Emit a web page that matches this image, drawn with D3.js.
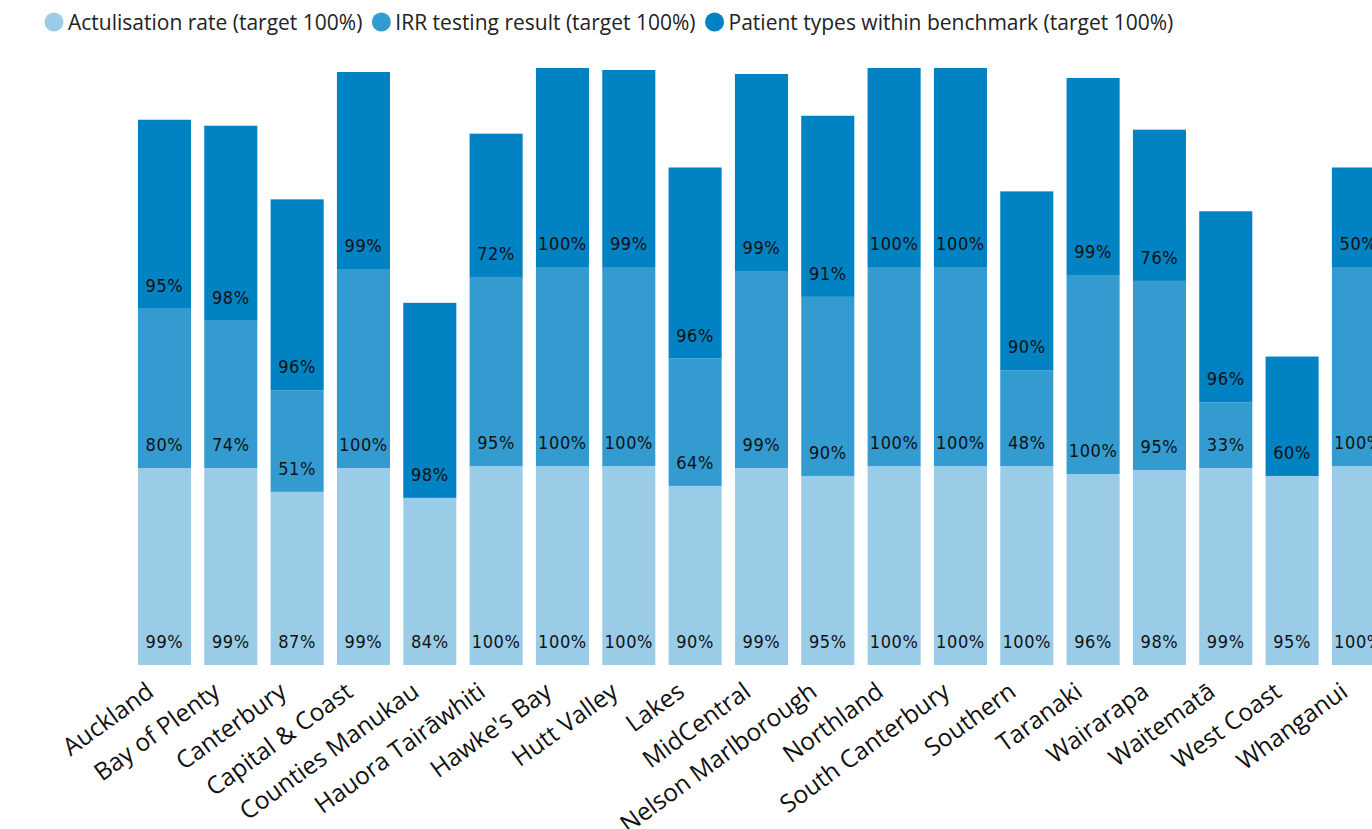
<!DOCTYPE html>
<html>
<head>
<meta charset="utf-8">
<script src="https://cdn.jsdelivr.net/npm/d3@7"></script>
<style>
  html, body { margin: 0; padding: 0; background: #fff; overflow: hidden; }
  svg { display: block; }
</style>
</head>
<body>
<svg id="chart" width="1372" height="829"></svg>
<script>
const categories = ["Auckland", "Bay of Plenty", "Canterbury", "Capital & Coast", "Counties Manukau",
  "Hauora Tairāwhiti", "Hawke's Bay", "Hutt Valley", "Lakes", "MidCentral", "Nelson Marlborough",
  "Northland", "South Canterbury", "Southern", "Taranaki", "Wairarapa", "Waitematā", "West Coast", "Whanganui"];
const actualisation = [99, 99, 87, 99, 84, 100, 100, 100, 90, 99, 95, 100, 100, 100, 96, 98, 99, 95, 100];
const irr = [80, 74, 51, 100, null, 95, 100, 100, 64, 99, 90, 100, 100, 48, 100, 95, 33, null, 100];
const patientTypes = [95, 98, 96, 99, 98, 72, 100, 99, 96, 99, 91, 100, 100, 90, 99, 76, 96, 60, 50];
const seriesNames = ["Actulisation rate (target 100%)", "IRR testing result (target 100%)", "Patient types within benchmark (target 100%)"];
const seriesColors = ["#9acce7", "#349bd0", "#0082c3"];

const svg = d3.select("#chart");
const seriesVals = [actualisation, irr, patientTypes];

const rows = categories.map((c, i) => ({
  cat: c, s0: actualisation[i] || 0, s1: irr[i] || 0, s2: patientTypes[i] || 0
}));
const stack = d3.stack().keys(["s0", "s1", "s2"]);
const stacked = stack(rows);

const x = d3.scaleBand().domain(categories).range([131.3, 1391.6]).paddingInner(0.2).paddingOuter(0.1);
const y = d3.scaleLinear().domain([0, 300]).range([665, 68]);

const layers = svg.append("g").selectAll("g").data(stacked).join("g")
  .attr("fill", (d, i) => seriesColors[i]);

layers.selectAll("rect").data((d, si) => d.map((v, i) => ({ v, i, si })))
  .join("rect")
  .filter(d => seriesVals[d.si][d.i] != null)
  .attr("x", d => x(categories[d.i]))
  .attr("width", x.bandwidth())
  .attr("y", d => y(d.v[1]))
  .attr("height", d => y(d.v[0]) - y(d.v[1]));

// value labels (inside base)
const labelG = svg.append("g")
  .attr("font-family", "'DejaVu Sans Condensed', 'DejaVu Sans', sans-serif")
  .attr("font-stretch", "condensed")
  .attr("font-size", 18)
  .attr("letter-spacing", 0.6)
  .attr("fill", "#111")
  .attr("text-anchor", "middle");
stacked.forEach((layer, si) => {
  layer.forEach((v, i) => {
    const val = seriesVals[si][i];
    if (val == null) return;
    labelG.append("text")
      .attr("x", x(categories[i]) + x.bandwidth() / 2)
      .attr("y", y(v[0]) - 17)
      .text(val + "%");
  });
});

// x axis labels
const xAxis = d3.axisBottom(x).tickSize(0).tickPadding(0);
const axG = svg.append("g").attr("transform", "translate(0,665)").call(xAxis);
axG.select(".domain").remove();
axG.selectAll("text")
  .attr("font-family", "'Open Sans', 'Noto Sans', sans-serif")
  .attr("font-size", 24.5)
  .attr("fill", "#111")
  .attr("text-anchor", "end")
  .attr("dy", 0)
  .attr("y", 0)
  .attr("transform", "translate(-9,30) rotate(-36)");

// legend
const legend = svg.append("g").attr("font-family", "'Open Sans', 'Noto Sans', sans-serif").attr("font-size", 21);
let lx = 54;
seriesNames.forEach((name, i) => {
  legend.append("circle").attr("cx", lx).attr("cy", 22).attr("r", 9.5).attr("fill", seriesColors[i]);
  const t = legend.append("text").attr("x", lx + 14).attr("y", 29.5).attr("fill", "#222").text(name);
  const w = t.node().getComputedTextLength();
  lx = lx + 14 + w + 19;
});
</script>
</body>
</html>
